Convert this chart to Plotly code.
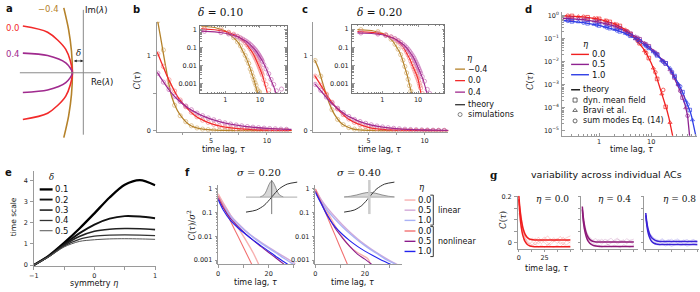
import plotly.graph_objects as go

W, H = 700, 292
SANS = "DejaVu Sans"
SERIF = "DejaVu Serif"

# ======================= DATA =======================
# (a) schematic edge of eigenvalue spectra (Re/Im units)
A_RE_ELL = [-1.22, -0.72, -0.354, -0.22, -0.354, -0.72, -1.22]
A_IM_RED = [0.95, 0.823, 0.475, 0.0, -0.475, -0.823, -0.95]
A_IM_PURPLE = [0.40, 0.35, 0.20, 0.0, -0.20, -0.35, -0.40]
A_RE_BROWN = [-0.394, -0.297, -0.239, -0.22, -0.239, -0.297, -0.394]
A_IM_BROWN = [1.32, 0.88, 0.44, 0.0, -0.44, -0.88, -1.32]
A_DELTA = 0.22
A_LABELS = ["−0.4", "0.0", "0.4"]

# (b),(c) theory curves
BC_T = [0.2, 0.5, 1, 1.5, 2, 2.5, 3, 3.5, 4, 5, 6, 7, 8, 9, 10, 12, 14, 16, 18, 20, 25, 30, 35]
B_BROWN = [1.50, 1.25, 0.82, 0.45, 0.27, 0.16, 0.085, 0.047, 0.027, 0.009, 0.0033, 0.0013, 0.0005, 0.0002,
           0.00008, 1.5e-5, 3e-6, 6e-7, 1e-7, 2e-8, 1e-8, 1e-8, 1e-8]
B_RED = [1.05, 0.94, 0.76, 0.6, 0.46, 0.36, 0.28, 0.21, 0.16, 0.095, 0.055, 0.032, 0.019, 0.011, 0.0068,
         0.0027, 0.0011, 0.00045, 0.00018, 0.00007, 7e-6, 7e-7, 7e-8]
B_PURPLE = [0.78, 0.71, 0.6, 0.5, 0.42, 0.355, 0.3, 0.255, 0.215, 0.155, 0.112, 0.08, 0.058, 0.042, 0.03,
            0.017, 0.0095, 0.0053, 0.003, 0.0018, 0.0007, 0.00025, 0.0001]
C_BROWN = [0.95, 0.85, 0.6, 0.37, 0.21, 0.11, 0.058, 0.028, 0.013, 0.0028, 0.0006, 0.00012, 2.4e-5, 5e-6,
           1e-6, 1e-7, 1e-8, 1e-8, 1e-8, 1e-8, 1e-8, 1e-8, 1e-8]
C_RED = [0.74, 0.67, 0.55, 0.43, 0.33, 0.25, 0.18, 0.13, 0.093, 0.045, 0.021, 0.01, 0.0058, 0.0033, 0.0018,
         0.0005, 0.00013, 3.5e-5, 9e-6, 2.5e-6, 1e-7, 1e-8, 1e-8]
C_PURPLE = [0.63, 0.58, 0.49, 0.4, 0.33, 0.265, 0.21, 0.17, 0.135, 0.085, 0.054, 0.034, 0.021, 0.013, 0.0082,
            0.0034, 0.0016, 0.0008, 0.00042, 0.00022, 5e-5, 1.1e-5, 2.5e-6]

# (b),(c) simulations
SIM_T = [0.25, 0.75, 1.25, 1.75, 2.25, 2.75, 3.25, 3.75, 4.25, 4.75, 5.25, 5.75, 6.25, 6.75, 7.25, 7.75,
         8.25, 8.75, 9.25, 9.75, 10.25, 10.75, 11.25, 11.75, 13, 15, 18, 21, 25, 30, 42]
B_SIM_BROWN = [1.47, 1.08, 0.62, 0.34, 0.2, 0.12, 0.065, 0.036, 0.02, 0.013, 0.0065, 0.0042, 0.0025, 0.0016,
               0.0011, 0.0008, 0.0005, 0.0004, 0.0003, 0.00035, -0.0002, 0.0002, -0.0001, 0.0001,
               None, None, None, None, None, None, None]
B_SIM_RED = [1.03, 0.86, 0.68, 0.53, 0.41, 0.32, 0.245, 0.185, 0.14, 0.11, 0.084, 0.063, 0.048, 0.037, 0.028,
             0.022, 0.017, 0.013, 0.01, 0.0078, 0.0062, 0.0048, 0.0038, 0.003, 0.0016, 0.0009, 0.00045,
             None, None, None, None]
B_SIM_PURPLE = [0.77, 0.65, 0.55, 0.46, 0.39, 0.33, 0.28, 0.235, 0.2, 0.17, 0.145, 0.122, 0.104, 0.088, 0.075,
                0.064, 0.054, 0.046, 0.039, 0.033, 0.028, 0.024, 0.02, 0.017, 0.011, 0.0065, 0.0035, 0.0017,
                0.0009, 0.0004, 0.0005]
C_SIM_BROWN = [0.94, 0.73, 0.48, 0.28, 0.15, 0.08, 0.04, 0.02, 0.009, 0.004, 0.0018, 0.0008, 0.0004, 0.0002,
               -0.0001, 0.0001, -0.0002, 0.0001, 0.0, -0.0001, 0.0001, 0.0, -0.0001, 0.0001,
               None, None, None, None, None, None, None]
C_SIM_RED = [0.73, 0.61, 0.49, 0.38, 0.29, 0.215, 0.155, 0.11, 0.08, 0.056, 0.039, 0.027, 0.018, 0.013, 0.0088,
             0.0065, 0.0048, 0.0035, 0.0026, 0.002, 0.0015, 0.0011, 0.0008, 0.0006, 0.0003,
             None, None, None, None, None, None]
C_SIM_PURPLE = [0.62, 0.54, 0.45, 0.37, 0.3, 0.24, 0.19, 0.15, 0.122, 0.098, 0.078, 0.062, 0.049, 0.039, 0.031,
                0.025, 0.019, 0.015, 0.012, 0.0095, 0.0076, 0.006, 0.0048, 0.0038, 0.0025, 0.0014, 0.0005,
                0.0003, None, None, None]
BC_ETA_LABELS = ["−0.4", "0.0", "0.4"]

# (d) theory
D_T_RED = [0.2, 0.3, 0.5, 1, 1.5, 2, 3, 4, 5, 6, 7, 8, 10, 12, 14, 16, 18, 20, 22, 24, 26, 28]
D_RED = [1.0, 0.97, 0.9, 0.72, 0.57, 0.45, 0.27, 0.165, 0.1, 0.062, 0.038, 0.024, 0.0088, 0.0032, 0.0011,
         0.0004, 0.00018, 8e-5, 3.5e-5, 1.5e-5, 6e-6, 2.5e-6]
D_T_PB = [0.2, 0.5, 1, 1.5, 2, 3, 4, 5, 6, 7, 8, 10, 12, 15, 20, 25, 30, 35, 40, 45, 50, 53, 56, 60, 65, 70,
          75, 80]
D_PURPLE = [0.78, 0.68, 0.53, 0.43, 0.35, 0.23, 0.165, 0.125, 0.095, 0.073, 0.058, 0.038, 0.025, 0.015, 0.0075,
            0.0033, 0.0014, 0.00062, 0.00028, 0.00013, 4.5e-5, 1.8e-5, 6e-6, 1.5e-6, 3e-7, 5e-8, 1e-8, 1e-9]
D_BLUE = [0.62, 0.5, 0.38, 0.3, 0.25, 0.18, 0.135, 0.1, 0.078, 0.06, 0.048, 0.033, 0.023, 0.014, 0.0075,
          0.0037, 0.0018, 0.0009, 0.00048, 0.00026, 0.00014, 0.0001, 7e-5, 4e-5, 2e-5, 1e-5, 5e-6, 2e-6]
# (d) dynamic mean field (squares), Bravi et al. (triangles), sum of modes (circles)
D_DMF_T = [0.3, 0.6, 1.0, 1.6, 2.5, 4, 6, 9, 13, 19, 28, 40, 55]
D_DMF_RED = [0.98, 0.86, 0.73, 0.54, 0.36, 0.16, 0.064, 0.0145, 0.0018, 0.00011, None, None, None]
D_DMF_PURPLE = [0.74, 0.65, 0.53, 0.42, 0.29, 0.165, 0.095, 0.047, 0.021, 0.0085, 0.0021, 0.00028, None]
D_DMF_BLUE = [0.57, 0.47, 0.38, 0.29, 0.21, 0.135, 0.078, 0.04, 0.019, 0.0085, 0.0024, 0.00048, 8e-5]
D_BR_T = [0.4, 0.8, 1.3, 2, 3.2, 5, 7.5, 11, 16, 23, 33, 46, 62]
D_BR_RED = [0.93, 0.79, 0.63, 0.45, 0.25, 0.1, 0.03, 0.0053, 0.0004, 2.3e-5, None, None, None]
D_BR_PURPLE = [0.72, 0.59, 0.47, 0.35, 0.22, 0.125, 0.065, 0.03, 0.012, 0.0045, 0.001, 0.0001, None]
D_BR_BLUE = [0.54, 0.42, 0.33, 0.25, 0.17, 0.1, 0.054, 0.027, 0.011, 0.0053, 0.0011, 0.0002, 3e-5]
D_SM_T = [0.25, 0.5, 0.9, 1.4, 2.2, 3.5, 5.5, 8, 12, 17, 25, 36, 50]
D_SM_RED = [1.0, 0.9, 0.75, 0.6, 0.41, 0.21, 0.08, 0.024, 0.0035, 0.0006, None, None, None]
D_SM_PURPLE = [0.76, 0.68, 0.56, 0.45, 0.32, 0.2, 0.11, 0.058, 0.025, 0.0105, 0.0033, 0.00055, 4.5e-5]
D_SM_BLUE = [0.6, 0.5, 0.4, 0.31, 0.23, 0.16, 0.088, 0.048, 0.023, 0.01, 0.0037, 0.00085, 0.00014]
D_ETA_LABELS = ["0.0", "0.5", "1.0"]
D_METHOD_LABELS = ["theory", "dyn. mean field", "Bravi et al.", "sum modes Eq. (14)"]

# (e) time scale vs symmetry
E_ETA = [-1, -0.75, -0.5, -0.25, 0, 0.25, 0.5, 0.75, 1]
E_D01 = [0, 0.45, 1.05, 1.72, 2.45, 3.2, 3.8, 4.02, 3.78]
E_D02 = [0, 0.43, 0.98, 1.5, 1.92, 2.2, 2.32, 2.3, 2.22]
E_D03 = [0, 0.42, 0.94, 1.35, 1.6, 1.7, 1.73, 1.72, 1.68]
E_D04 = [0, 0.41, 0.9, 1.22, 1.37, 1.42, 1.43, 1.42, 1.4]
E_D05 = [0, 0.4, 0.86, 1.12, 1.2, 1.24, 1.25, 1.24, 1.22]
E_DELTA_LABELS = ["0.1", "0.2", "0.3", "0.4", "0.5"]

# (f) normalized autocorrelations, linear vs nonlinear
FL_T = [0, 2, 5, 8, 11, 14, 17, 20, 23, 26, 29, 32]
FL_LIN0_T = [0, 2, 5, 8, 11, 14, 17, 20]
FL_LIN0 = [0.62, 0.26, 0.075, 0.022, 0.0068, 0.0019, 0.0004, 0.00008]
FL_NL0_T = [0, 2, 5, 8, 11, 14, 17]
FL_NL0 = [0.5, 0.185, 0.041, 0.0094, 0.0021, 0.00047, 0.0001]
FL_LIN05 = [0.5, 0.22, 0.075, 0.034, 0.017, 0.0093, 0.0056, 0.0035, 0.0022, 0.0014, 0.0009, 0.00058]
FL_LIN10 = [0.45, 0.19, 0.066, 0.031, 0.016, 0.0088, 0.0052, 0.0032, 0.002, 0.0012, 0.00075, 0.00046]
FL_NL05 = [0.4, 0.16, 0.055, 0.025, 0.0125, 0.0066, 0.0037, 0.0021, 0.0012, 0.00068, 0.00038, 0.0002]
FL_NL10 = [0.35, 0.13, 0.045, 0.022, 0.012, 0.0068, 0.004, 0.0024, 0.0014, 0.00086, 0.00053, 0.00033]
FR_T = [0, 2, 5, 8, 11, 14, 17, 20, 23, 26, 29, 32, 35]
FR_LIN0_T = [0, 2, 5, 8, 11, 14, 17, 19, 21, 22, 23]
FR_LIN0 = [1.0, 0.4, 0.1, 0.028, 0.009, 0.0037, 0.0021, 0.0016, 0.0012, 0.0008, 0.0003]
FR_NL0_T = [0, 2, 5, 8, 11, 14]
FR_NL0 = [1.0, 0.324, 0.06, 0.011, 0.002, 0.00037]
FR_LIN05 = [0.9, 0.4, 0.15, 0.065, 0.03, 0.015, 0.008, 0.0045, 0.0027, 0.0017, 0.0011, 0.00075, 0.0005]
FR_LIN10 = [0.8, 0.33, 0.12, 0.052, 0.025, 0.013, 0.0071, 0.0041, 0.0025, 0.0016, 0.001, 0.0007, 0.00046]
FR_NL05 = [0.8, 0.3, 0.075, 0.022, 0.0085, 0.0037, 0.0018, 0.0011, 0.00063, 0.0003, None, None, None]
FR_NL10 = [0.7, 0.28, 0.07, 0.025, 0.012, 0.0065, 0.0038, 0.0024, 0.0016, 0.0011, 0.00078, 0.00055, 0.0004]
F_ETA_LABELS = ["0.0", "0.5", "1.0", "0.0", "0.5", "1.0"]
# (f) inset sketches: transfer function and input distribution
FI_SIG_X = [-1, -0.6, -0.3, -0.15, 0, 0.15, 0.3, 0.6, 1]
FI_SIG_Y = [-0.96, -0.83, -0.54, -0.29, 0, 0.29, 0.54, 0.83, 0.96]
FI_G1_X = [-0.45, -0.3, -0.2, -0.1, 0, 0.1, 0.2, 0.3, 0.45]
FI_G1_Y = [0.01, 0.14, 0.42, 0.82, 1.03, 0.82, 0.42, 0.14, 0.01]
FI_G2_X = [-1, -0.75, -0.5, -0.25, 0, 0.25, 0.5, 0.75, 1]
FI_G2_Y = [0.014, 0.055, 0.137, 0.245, 0.3, 0.245, 0.137, 0.055, 0.014]

# (g) individual autocorrelations
G_T = [0, 1, 2, 3, 4, 5, 6, 8, 10, 12, 15, 20, 30, 40, 50]
G0_UP = [0.205, 0.15, 0.112, 0.085, 0.064, 0.049, 0.038, 0.024, 0.017, 0.014, 0.012, 0.012, 0.012, 0.012, 0.012]
G0_LO = [0.19, 0.125, 0.08, 0.05, 0.03, 0.016, 0.006, -0.006, -0.012, -0.015, -0.017, -0.017, -0.017, -0.017, -0.017]
G4_UP = [0.158, 0.11, 0.078, 0.056, 0.041, 0.03, 0.022, 0.012, 0.007, 0.005, 0.004, 0.004, 0.004, 0.004, 0.004]
G4_LO = [0.145, 0.095, 0.062, 0.04, 0.024, 0.013, 0.005, -0.005, -0.01, -0.013, -0.015, -0.016, -0.016, -0.016, -0.016]
G8_UP = [0.13, 0.09, 0.064, 0.047, 0.035, 0.027, 0.021, 0.014, 0.009, 0.007, 0.006, 0.006, 0.006, 0.006, 0.006]
G8_LO = [0.12, 0.078, 0.05, 0.032, 0.02, 0.011, 0.005, -0.002, -0.005, -0.006, -0.007, -0.007, -0.007, -0.007, -0.007]
GT_THIN = [0, 2, 4, 6, 8, 10, 13, 16, 19, 22, 25, 28, 31, 34, 37, 40, 43, 46, 50]
G0_THIN = [
    [0.19, 0.12, 0.07, 0.04, 0.025, 0.018, 0.01, 0.02, 0.005, 0.015, 0.025, 0.01, 0.018, 0.005, 0.02, 0.012, 0.025, 0.008, 0.015],
    [0.2, 0.11, 0.055, 0.025, 0.01, 0.0, -0.01, 0.005, -0.005, 0.01, 0.0, -0.012, 0.004, 0.012, -0.003, 0.006, -0.008, 0.01, 0.0],
    [0.17, 0.1, 0.05, 0.02, 0.005, -0.008, -0.015, -0.005, -0.018, -0.01, -0.02, -0.006, -0.015, -0.02, -0.01, -0.018, -0.005, -0.016, -0.01],
    [0.15, 0.09, 0.05, 0.03, 0.02, 0.01, 0.02, 0.01, 0.025, 0.008, 0.018, 0.03, 0.012, 0.022, 0.01, 0.028, 0.015, 0.02, 0.03],
    [0.13, 0.07, 0.035, 0.015, 0.0, -0.005, 0.005, -0.01, 0.008, -0.004, 0.01, 0.0, -0.008, 0.006, 0.014, -0.006, 0.004, -0.01, 0.005],
]
G4_THIN = [
    [0.15, 0.085, 0.05, 0.03, 0.02, 0.012, 0.018, 0.008, 0.016, 0.004, 0.012, 0.02, 0.006, 0.015, 0.01, 0.004, 0.018, 0.01, 0.006],
    [0.13, 0.07, 0.035, 0.015, 0.005, -0.002, -0.008, 0.004, -0.006, 0.006, -0.01, 0.0, 0.008, -0.005, 0.002, 0.01, -0.004, 0.005, -0.008],
    [0.12, 0.06, 0.03, 0.01, -0.005, -0.012, -0.016, -0.01, -0.02, -0.012, -0.006, -0.018, -0.01, -0.016, -0.022, -0.008, -0.014, -0.02, -0.012],
    [0.1, 0.06, 0.035, 0.022, 0.015, 0.01, 0.004, 0.014, 0.006, 0.016, 0.009, 0.003, 0.012, 0.02, 0.007, 0.013, 0.002, 0.011, 0.016],
]
G8_THIN = [
    [0.13, 0.07, 0.04, 0.025, 0.016, 0.012, 0.006, 0.014, 0.004, 0.01, 0.016, 0.006, 0.012, 0.003, 0.009, 0.015, 0.005, 0.011, 0.008],
    [0.12, 0.06, 0.03, 0.014, 0.006, 0.0, 0.005, -0.004, 0.003, -0.006, 0.002, 0.007, -0.003, 0.004, -0.007, 0.001, 0.006, -0.004, 0.002],
    [0.1, 0.05, 0.022, 0.008, -0.002, -0.008, -0.012, -0.006, -0.014, -0.009, -0.016, -0.01, -0.005, -0.013, -0.008, -0.015, -0.01, -0.006, -0.012],
    [0.11, 0.065, 0.04, 0.028, 0.02, 0.016, 0.01, 0.018, 0.008, 0.014, 0.004, 0.012, 0.017, 0.007, 0.013, 0.003, 0.01, 0.015, 0.006],
]
G_ETA_LABELS = ["0.0", "0.4", "0.8"]

# tick labels (major, labelled) and unlabelled minor tick positions
BC_XTICKS, BC_XTEXT, BC_XMINOR = [5, 10], ["5", "10"], [2.5, 7.5]
BC_YTICKS, BC_YTEXT, BC_YMINOR = [0, 1], ["0", "1"], [0.5]
INS_XTICKS, INS_XTEXT = [1, 10], ["1", "10"]
INS_YTICKS, INS_YTEXT = [1, 0.1, 0.01, 0.001], ["1", "0.1", "0.01", "0.001"]
D_YTICKS = [1, 0.1, 0.01, 0.001, 0.0001, 0.00001]
D_YTEXT = ["10<sup>0</sup>", "10<sup>−1</sup>", "10<sup>−2</sup>", "10<sup>−3</sup>", "10<sup>−4</sup>", "10<sup>−5</sup>"]
E_XTICKS, E_XTEXT, E_XMINOR = [-1, 0, 1], ["−1", "0", "1"], [-0.5, 0.5]
E_YTICKS, E_YTEXT = [0, 1, 2, 3, 4], ["0", "1", "2", "3", "4"]
F_XTICKS, F_XTEXT, F_XMINOR = [0, 20], ["0", "20"], [10, 30]
G_XTICKS, G_XTEXT, G_XMINOR = [0, 25], ["0", "25"], [12.5, 37.5, 50]
G_YTICKS, G_YTEXT, G_YMINOR = [0, 0.2], ["0", "0.2"], [0.05, 0.1, 0.15]
LOG_MINOR = [0.2, 0.3, 0.4, 0.5, 0.6, 0.7, 0.8, 0.9, 2, 3, 4, 5, 6, 7, 8, 9, 20, 30, 40, 50, 60, 70, 80, 90]
LOG_MINOR_Y = [v * s for s in (1e-5, 1e-4, 1e-3, 1e-2, 1e-1) for v in (2, 3, 4, 5, 6, 7, 8, 9)]

# ======================= STYLE =======================
BROWN, RED, PURPLE = "#b5822a", "#f22a2a", "#a02a8e"
SIMC = {"brown": "#d6b071", "red": "#f48a8a", "purple": "#c971b7"}
D_RED_C, D_PUR_C, D_BLU_C = "#f02020", "#8e2290", "#2f3ee6"
F_COLORS = ["#f7b0b0", "#d2a9d8", "#aab2f5", "#f27272", "#8b1c8b", "#2222ee"]
G_COLORS = ["#f01e1e", "#8e1a78", "#3a22d6"]
G_THIN_COLORS = ["rgba(240,40,40,0.35)", "rgba(142,26,120,0.3)", "rgba(58,34,214,0.3)"]
SPINE = "#9a9a9a"
TICKFONT = dict(size=6.5, family=SANS, color="#222")

fig = go.Figure()
layout = dict(width=W, height=H, margin=dict(l=0, r=0, t=0, b=0), showlegend=False,
              paper_bgcolor="white", plot_bgcolor="rgba(0,0,0,0)", annotations=[], shapes=[])


def xd(p0, p1):
    return [max(p0 / W, 0), min(p1 / W, 1)]


def yd(top, bottom):
    return [1 - bottom / H, 1 - top / H]


def ref(n):
    return ("x", "y") if n == 1 else (f"x{n}", f"y{n}")


def minor_out(vals):
    return dict(tickvals=vals, ticks="outside", ticklen=2.5, tickcolor=SPINE, tickwidth=1, showgrid=False)


def add_axes(n, xpx, ypx, xr, yr, xtype="linear", ytype="linear", visible=True, xkw=None, ykw=None):
    xk = "xaxis" if n == 1 else f"xaxis{n}"
    yk = "yaxis" if n == 1 else f"yaxis{n}"
    rx, ry = ref(n)
    base = dict(showgrid=False, zeroline=False, fixedrange=True, visible=visible,
                showline=True, linecolor=SPINE, linewidth=1, ticks="outside", ticklen=2.5,
                tickcolor=SPINE, tickwidth=1, tickfont=TICKFONT)
    xa = dict(base, domain=xd(*xpx), range=xr, type=xtype, anchor=ry, ticklabelstandoff=0)
    ya = dict(base, domain=yd(*ypx), range=yr, type=ytype, anchor=rx, ticklabelstandoff=1)
    if xkw:
        xa.update(xkw)
    if ykw:
        ya.update(ykw)
    layout[xk] = xa
    layout[yk] = ya


def line(n, x, y, color, width=1.3, shape="linear", opacity=1.0):
    rx, ry = ref(n)
    fig.add_trace(go.Scatter(x=x, y=y, xaxis=rx, yaxis=ry, mode="lines", opacity=opacity,
                             line=dict(color=color, width=width, shape=shape, smoothing=0.8),
                             hoverinfo="skip"))


def marks(n, x, y, color, symbol="circle-open", size=4.5, width=0.8):
    rx, ry = ref(n)
    fig.add_trace(go.Scatter(x=x, y=y, xaxis=rx, yaxis=ry, mode="markers",
                             marker=dict(symbol=symbol, size=size, color=color, line=dict(color=color, width=width)),
                             hoverinfo="skip"))


def txt(x, y, s, size=8, anchor="center", family=SANS, color="#111", angle=0):
    layout["annotations"].append(dict(x=x / W, y=1 - y / H, xref="paper", yref="paper", text=s, showarrow=False,
                                      xanchor=anchor, yanchor="middle", textangle=angle, borderpad=0,
                                      font=dict(size=size, family=family, color=color)))


def pline(x0, y0, x1, y1, color="#222", width=1):
    layout["shapes"].append(dict(type="line", xref="paper", yref="paper", x0=x0 / W, x1=x1 / W,
                                 y0=1 - y0 / H, y1=1 - y1 / H, line=dict(color=color, width=width)))


# ---------- overlay axis for legend glyphs (pixel units) ----------
add_axes(1, (0, 700), (0, 292), [0, 700], [292, 0], visible=False)

# ---------- (a) ----------
add_axes(2, (0, 105), (3, 140), [-1.58, 0.52], [-1.36, 1.38], visible=False)
for x0, y0, x1, y1 in [(0, -1.26, 0, 1.28), (-1.28, 0, 0.35, 0)]:
    layout["shapes"].append(dict(type="line", xref="x2", yref="y2", x0=x0, y0=y0, x1=x1, y1=y1,
                                 line=dict(color="#8a8a8a", width=1)))
line(2, A_RE_BROWN, A_IM_BROWN, BROWN, 1.6, "spline")
line(2, A_RE_ELL, A_IM_RED, RED, 1.6, "spline")
line(2, A_RE_ELL, A_IM_PURPLE, PURPLE, 1.6, "spline")
layout["annotations"].append(dict(x=0, y=0.24, xref="x2", yref="y2", ax=-A_DELTA, ay=0.24, axref="x2",
                                  ayref="y2", text="", showarrow=True, arrowhead=2, arrowside="end+start",
                                  arrowsize=0.7, arrowwidth=0.8, arrowcolor="#222"))
txt(5, 7, "<b>a</b>", 10)
txt(44, 7, A_LABELS[0], 8.5, color=BROWN)
txt(8, 26, A_LABELS[1], 8.5, color=RED)
txt(8, 53, A_LABELS[2], 8.5, color=PURPLE)
txt(92, 8, "Im(<i>λ</i>)", 8.5)
txt(98, 81, "Re(<i>λ</i>)", 8.5)
txt(74, 52, "<i>δ</i>", 8.5, family=SERIF)

# ---------- (b),(c) ----------
main_x = dict(tickvals=BC_XTICKS, ticktext=BC_XTEXT, minor=minor_out(BC_XMINOR))
main_y = dict(tickvals=BC_YTICKS, ticktext=BC_YTEXT, minor=minor_out(BC_YMINOR))
ins_x = dict(tickvals=INS_XTICKS, ticktext=INS_XTEXT, ticks="inside", mirror="ticks", linecolor="#777",
             ticklen=2.5, minor=dict(tickvals=LOG_MINOR, ticks="inside", ticklen=1.5, tickcolor="#888"))
ins_y = dict(tickvals=INS_YTICKS, ticktext=INS_YTEXT, ticks="inside", mirror="ticks", linecolor="#777",
             ticklen=2.5, minor=dict(tickvals=LOG_MINOR_Y, ticks="inside", ticklen=1.5, tickcolor="#888"))

panels = [
    (3, 4, (153, 289), (197, 284), [0.15, 12.2], [-0.72, 1.77], [-3.54, 0.2],
     (B_BROWN, B_RED, B_PURPLE), (B_SIM_BROWN, B_SIM_RED, B_SIM_PURPLE)),
    (5, 6, (311, 447), (350, 443), [0.09, 12.1], [-0.85, 1.73], [-3.52, 0.25],
     (C_BROWN, C_RED, C_PURPLE), (C_SIM_BROWN, C_SIM_RED, C_SIM_PURPLE)),
]
for nm, ni, mx, ix, xr, ixr, iyr, th, sims in panels:
    add_axes(nm, mx, (20, 132), xr, [-0.015, 1.46], xkw=main_x, ykw=main_y)
    add_axes(ni, ix, (24 if ni == 4 else 23, 93), ixr, iyr, "log", "log", xkw=ins_x, ykw=ins_y)
    for vals, sv, col, sc in zip(th, sims, (BROWN, RED, PURPLE), ("brown", "red", "purple")):
        marks(nm, SIM_T, sv, SIMC[sc], size=4.2, width=0.7)
        line(nm, BC_T, vals, col, 1.3, "spline")
        marks(ni, SIM_T, sv, SIMC[sc], size=4.2, width=0.7)
        line(ni, BC_T, vals, col, 1.1)

txt(133, 8, "<b>b</b>", 10)
txt(303, 8, "<b>c</b>", 10)
txt(217, 10, "<i>δ</i> = 0.10", 10.5, family=SERIF)
txt(378, 10, "<i>δ</i> = 0.20", 10.5, family=SERIF)
txt(133, 80, "<i>C</i>(<i>τ</i>)", 8.5, family=SERIF, angle=-90)
txt(220, 150.5, "time lag, <i>τ</i>", 8)
txt(378, 150.5, "time lag, <i>τ</i>", 8)
# legend (b,c)
txt(469, 57, "<i>η</i>", 8.5, family=SERIF)
for yy, col, lab in zip((68.3, 80, 91.7), (BROWN, RED, PURPLE), BC_ETA_LABELS):
    line(1, [454, 464], [yy, yy], col, 1.3)
    txt(466, yy, lab, 8, anchor="left")
line(1, [454, 464], [104.5, 104.5], "#333", 1.3)
txt(466, 104.5, "theory", 8, anchor="left")
marks(1, [459], [114.5], "#666", size=4, width=0.8)
txt(466, 114.5, "simulations", 8, anchor="left")

# ---------- (d) ----------
add_axes(7, (562, 698), (10, 136), [-0.71, 1.88], [-5.21, 0.17], "log", "log",
         xkw=dict(tickvals=INS_XTICKS, ticktext=INS_XTEXT, ticks="inside",
                  minor=dict(tickvals=LOG_MINOR, ticks="inside", ticklen=1.5, tickcolor="#999")),
         ykw=dict(tickvals=D_YTICKS, ticktext=D_YTEXT, ticks="inside",
                  minor=dict(tickvals=LOG_MINOR_Y, ticks="inside", ticklen=1.5, tickcolor="#999")))
for tt, vv, col in [(D_T_RED, D_RED, D_RED_C), (D_T_PB, D_PURPLE, D_PUR_C), (D_T_PB, D_BLUE, D_BLU_C)]:
    line(7, tt, vv, col, 1.3)
for tt, series, sym in [(D_DMF_T, (D_DMF_RED, D_DMF_PURPLE, D_DMF_BLUE), "square-open"),
                        (D_BR_T, (D_BR_RED, D_BR_PURPLE, D_BR_BLUE), "triangle-up-open"),
                        (D_SM_T, (D_SM_RED, D_SM_PURPLE, D_SM_BLUE), "circle-open")]:
    for vv, col in zip(series, (D_RED_C, D_PUR_C, D_BLU_C)):
        marks(7, tt, vv, col, symbol=sym, size=3.6, width=0.7)
txt(528, 8, "<b>d</b>", 10)
txt(529, 80, "<i>C</i>(<i>τ</i>)", 8.5, family=SERIF, angle=-90)
txt(632, 150.5, "time lag, <i>τ</i>", 8)
txt(586, 43, "<i>η</i>", 8.5, family=SERIF)
for yy, col, lab in zip((53.3, 63.5, 74), (D_RED_C, D_PUR_C, D_BLU_C), D_ETA_LABELS):
    line(1, [571, 589], [yy, yy], col, 1.4)
    txt(591, yy, lab, 8.5, anchor="left")
line(1, [571, 580], [89.3, 89.3], "#111", 1.4)
txt(582, 89.3, D_METHOD_LABELS[0], 8, anchor="left")
for yy, sym, lab in zip((99.8, 110.3, 121), ("square-open", "triangle-up-open", "circle-open"), D_METHOD_LABELS[1:]):
    marks(1, [575], [yy], "#444", symbol=sym, size=4, width=0.8)
    txt(582, yy, lab, 8, anchor="left")

# ---------- (e) ----------
add_axes(8, (29, 152), (172, 269), [-1.0, 1.01], [-0.06, 4.45],
         xkw=dict(tickvals=E_XTICKS, ticktext=E_XTEXT, minor=minor_out(E_XMINOR)),
         ykw=dict(tickvals=E_YTICKS, ticktext=E_YTEXT))
E_SERIES = [E_D01, E_D02, E_D03, E_D04, E_D05]
E_WIDTHS = [2.3, 1.9, 1.6, 1.3, 1.0]
E_COLS = ["#000", "#111", "#222", "#333", "#555"]
for vals, w, c in zip(E_SERIES, E_WIDTHS, E_COLS):
    line(8, E_ETA, vals, c, w, "spline")
txt(4, 173, "<b>e</b>", 10)
txt(8, 218, "time scale", 7.5, angle=-90)
txt(90, 286, "symmetry <i>η</i>", 8)
txt(47, 178.5, "<i>δ</i>", 8.5, family=SERIF)
for yy, w, c, lab in zip((190.7, 201, 211.7, 222.3, 232.7), E_WIDTHS, E_COLS, E_DELTA_LABELS):
    line(1, [35, 48], [yy, yy], c, w)
    txt(49, yy, lab, 8.5, anchor="left")

# ---------- (f) ----------
f_x = dict(tickvals=F_XTICKS, ticktext=F_XTEXT, minor=minor_out(F_XMINOR))
f_y = dict(tickvals=INS_YTICKS, ticktext=INS_YTEXT,
           minor=dict(tickvals=LOG_MINOR_Y, ticks="outside", ticklen=1.5, tickcolor=SPINE))
add_axes(9, (215, 293), (186, 267), [0, 30.6], [-3.18, 0.17], "linear", "log", xkw=f_x, ykw=f_y)
add_axes(10, (313, 400), (186, 267), [0, 34.8], [-3.18, 0.17], "linear", "log", xkw=dict(f_x), ykw=dict(f_y))
fl = [(FL_LIN0_T, FL_LIN0), (FL_T, FL_LIN05), (FL_T, FL_LIN10), (FL_NL0_T, FL_NL0), (FL_T, FL_NL05), (FL_T, FL_NL10)]
fr = [(FR_LIN0_T, FR_LIN0), (FR_T, FR_LIN05), (FR_T, FR_LIN10), (FR_NL0_T, FR_NL0), (FR_T, FR_NL05), (FR_T, FR_NL10)]
for n, series in ((9, fl), (10, fr)):
    for (tt, vv), col in zip(series, F_COLORS):
        line(n, tt, vv, col, 1.4 if col in F_COLORS[:3] else 1.1, "spline")
# inset sketches
for n, xpx, gx, gy, vcol, vw in ((11, (243, 295), FI_G1_X, FI_G1_Y, "#555", 0.8),
                                 (12, (342, 393), FI_G2_X, FI_G2_Y, "#cccccc", 2.5)):
    add_axes(n, xpx, (181, 216), [-1, 1], [-1.1, 1.1], visible=False)
    rx, ry = ref(n)
    layout["shapes"].append(dict(type="line", xref=rx, yref=ry, x0=-1, x1=1, y0=0, y1=0,
                                 line=dict(color="#aaaaaa", width=1)))
    layout["shapes"].append(dict(type="line", xref=rx, yref=ry, x0=0, x1=0, y0=-1.1, y1=1.1,
                                 line=dict(color=vcol, width=vw)))
    fig.add_trace(go.Scatter(x=gx, y=gy, xaxis=rx, yaxis=ry, mode="lines", fill="tozeroy",
                             fillcolor="rgba(190,190,190,0.6)", line=dict(color="#666", width=0.7, shape="spline"),
                             hoverinfo="skip"))
    line(n, FI_SIG_X, FI_SIG_Y, "#333", 1.0, "spline")
txt(184, 173, "<b>f</b>", 10)
txt(256, 173, "<i>σ</i> = 0.20", 10, family=SERIF)
txt(357, 173, "<i>σ</i> = 0.40", 10, family=SERIF)
txt(188, 227, "<i>C</i>(<i>τ</i>)/<i>σ</i><sup>2</sup>", 8.5, family=SERIF, angle=-90)
txt(253, 285.5, "time lag, <i>τ</i>", 8)
txt(351, 285.5, "time lag, <i>τ</i>", 8)
txt(421, 188.5, "<i>η</i>", 8.5, family=SERIF)
for yy, col, lab in zip((201.5, 211.8, 222.2, 233, 243.5, 253.8), F_COLORS, F_ETA_LABELS):
    line(1, [403, 414], [yy, yy], col, 1.4)
    txt(415.5, yy, lab, 8.5, anchor="left")
for y0, y1 in ((196.5, 227), (228.5, 259)):
    pline(432, y0, 432, y1, "#222", 0.9)
    pline(429, y0, 432, y0, "#222", 0.9)
    pline(429, y1, 432, y1, "#222", 0.9)
txt(436, 211.8, "linear", 8, anchor="left")
txt(436, 243.5, "nonlinear", 8, anchor="left")

# ---------- (g) ----------
for k, (n, xpx, xr) in enumerate(((13, (517, 574), [-1.25, 53.6]), (14, (581, 638), [-1.25, 53.6]),
                                   (15, (645, 700), [-1.25, 51.6]))):
    add_axes(n, xpx, (197, 251), xr, [-0.0257, 0.2056],
             xkw=dict(tickvals=G_XTICKS, ticktext=G_XTEXT, minor=minor_out(G_XMINOR), showticklabels=(k == 0)),
             ykw=dict(tickvals=G_YTICKS, ticktext=G_YTEXT, minor=minor_out(G_YMINOR), showticklabels=(k == 0)))
    thin = (G0_THIN, G4_THIN, G8_THIN)[k]
    up, lo = ((G0_UP, G0_LO), (G4_UP, G4_LO), (G8_UP, G8_LO))[k]
    for tr in thin:
        line(n, GT_THIN, tr, G_THIN_COLORS[k], 0.6)
    line(n, G_T, up, G_COLORS[k], 1.5, "spline")
    line(n, G_T, lo, G_COLORS[k], 1.5, "spline")
txt(493, 176, "<b>g</b>", 10.5, family=SERIF)
txt(607, 176, "variability across individual ACs", 9.5)
for xx, lab in zip((552, 615, 680), G_ETA_LABELS):
    txt(xx, 200, "<i>η</i> = " + lab, 9, family=SERIF)
txt(503, 222, "<i>C</i>(<i>τ</i>)", 8.5, family=SERIF, angle=-90)
txt(546, 271, "time lag, <i>τ</i>", 8)

fig.update_layout(**layout)
fig.write_html("out.html", config={"displayModeBar": False},
               post_script="document.body.style.margin='0';document.body.style.overflow='hidden';")
